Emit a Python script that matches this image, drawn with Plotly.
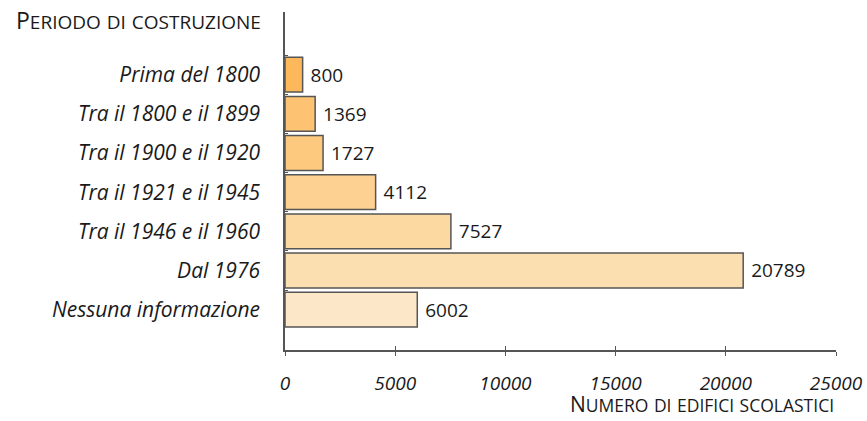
import plotly.graph_objects as go

categories = ["Prima del 1800", "Tra il 1800 e il 1899", "Tra il 1900 e il 1920",
              "Tra il 1921 e il 1945", "Tra il 1946 e il 1960", "Dal 1976",
              "Nessuna informazione"]
values = [800, 1369, 1727, 4112, 7527, 20789, 6002]
bar_colors = ["#FDB85C", "#FDC373", "#FDC97F", "#FDD191", "#FDD9A2", "#FCDFB1", "#FDE7C9"]
x_ticks = [0, 5000, 10000, 15000, 20000, 25000]

FONT = "Open Sans"
TXT = "#1a1a1a"
AX = "#555555"


def small_caps(s, small=18):
    out = []
    for word in s.split(" "):
        first, rest = word[0], word[1:]
        if first.isupper():
            out.append(first + f"<span style='font-size:{small}px'>{rest.upper()}</span>")
        else:
            out.append(f"<span style='font-size:{small}px'>{word.upper()}</span>")
    return " ".join(out)


fig = go.Figure()
fig.add_trace(go.Bar(
    y=categories, x=values, orientation="h",
    marker=dict(color=bar_colors, line=dict(color=AX, width=1.5)),
    text=[" " + str(v) for v in values], textposition="outside",
    textfont=dict(family=FONT, size=19, color=TXT),
    cliponaxis=False, width=0.89,
))

fig.update_layout(
    width=867, height=421,
    margin=dict(l=285, r=31, t=12, b=71, autoexpand=False),
    plot_bgcolor="white", paper_bgcolor="white",
    showlegend=False,
    xaxis=dict(range=[0, 25000], tickvals=x_ticks, ticktext=[str(t) for t in x_ticks],
               showgrid=False, zeroline=False, showline=True, linecolor=AX, linewidth=1.5,
               ticks="outside", ticklen=4, tickwidth=1.2, tickcolor=AX,
               ticklabelstandoff=11, automargin=False,
               tickfont=dict(family=FONT, size=19, color=TXT, style="italic")),
    xaxis2=dict(range=[0, 25000], overlaying="x", matches="x", side="bottom",
                tickvals=x_ticks, showticklabels=False, showgrid=False, zeroline=False,
                ticks="inside", ticklen=4, tickwidth=1.2, tickcolor=AX, showline=False,
                automargin=False),
    yaxis=dict(categoryorder="array", categoryarray=categories,
               range=[7.03, -1.6], showgrid=False, zeroline=False,
               showline=True, linecolor=AX, linewidth=1.5,
               ticks="inside", ticklen=3, tickwidth=1.2, tickcolor=AX, tickson="boundaries",
               ticklabelstandoff=19, automargin=False,
               tickfont=dict(family=FONT, size=21, color=TXT, style="italic")),
)
fig.add_trace(go.Scatter(x=[0], y=[categories[0]], xaxis="x2", mode="markers",
                         marker=dict(opacity=0), hoverinfo="skip"))

fig.add_annotation(text=small_caps("Periodo di costruzione", 19), xref="paper", yref="paper",
                   x=0, y=1, xanchor="right", yanchor="middle", xshift=-22, yshift=-8,
                   showarrow=False,
                   font=dict(family=FONT, size=23, color=TXT))
fig.add_annotation(text=small_caps("Numero di edifici scolastici", 17.5), xref="paper", yref="paper",
                   x=1, y=0, xanchor="right", yanchor="bottom", yshift=-70,
                   showarrow=False,
                   font=dict(family=FONT, size=21, color=TXT))

fig.write_html("out.html")
